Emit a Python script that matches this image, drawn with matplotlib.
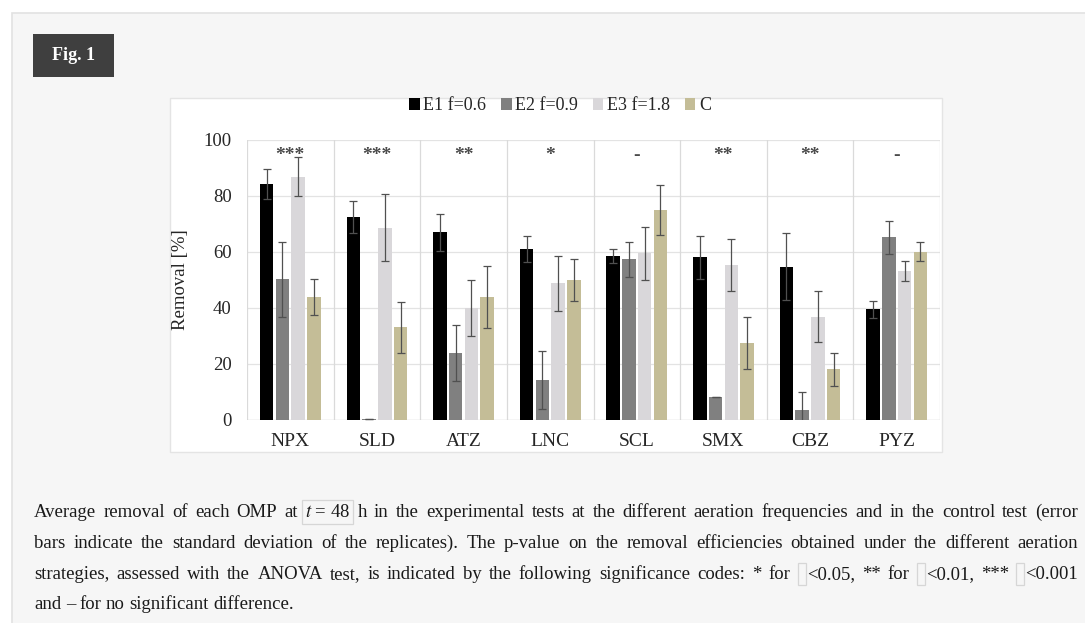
import numpy as np
import matplotlib
matplotlib.use("Agg")
import matplotlib.pyplot as plt
from matplotlib.patches import Patch, Rectangle

plt.rcParams["font.family"] = ["Liberation Serif", "DejaVu Serif"]
plt.rcParams["mathtext.fontset"] = "stix"

compounds = ["NPX", "SLD", "ATZ", "LNC", "SCL", "SMX", "CBZ", "PYZ"]
series = ["E1 f=0.6", "E2 f=0.9", "E3 f=1.8", "C"]

e1 = [84.2, 72.6, 67.0, 61.1, 58.6, 58.1, 54.8, 39.6]
e2 = [50.2, 0.5, 23.8, 14.3, 57.4, 8.3, 3.6, 65.2]
e3 = [86.9, 68.7, 39.9, 48.8, 59.5, 55.4, 36.9, 53.3]
c = [44.0, 33.1, 44.0, 50.0, 75.0, 27.4, 18.1, 60.1]

e1_sd = [5.3, 5.7, 6.5, 4.6, 2.5, 7.6, 12.0, 3.0]
e2_sd = [13.5, 0.0, 10.0, 10.5, 6.3, 0.0, 6.5, 6.0]
e3_sd = [7.0, 12.0, 10.0, 9.7, 9.5, 9.2, 9.2, 3.5]
c_sd = [6.5, 9.0, 11.0, 7.4, 9.0, 9.3, 6.0, 3.4]

signif = ["***", "***", "**", "*", "-", "**", "**", "-"]

colors = ["#000000", "#808080", "#d9d7da", "#c4bd97"]

W, H = 1085, 623
fig = plt.figure(figsize=(W / 100, H / 100), dpi=100)
fig.patch.set_facecolor("white")


def fx(px):
    return px / W


def fy(py):
    return 1 - py / H


# page panel and chart box
fig.add_artist(Rectangle((fx(12), fy(700)), fx(1100), fy(13) - fy(700),
                         transform=fig.transFigure, facecolor="#f6f6f6",
                         edgecolor="#e2e2e2", lw=1.2, zorder=-3))
fig.add_artist(Rectangle((fx(170), fy(452)), fx(942) - fx(170), fy(98) - fy(452),
                         transform=fig.transFigure, facecolor="white",
                         edgecolor="#e4e4e4", lw=1.0, zorder=-2))
fig.add_artist(Rectangle((fx(33), fy(77)), fx(114) - fx(33), fy(34) - fy(77),
                         transform=fig.transFigure, facecolor="#3f3f3f",
                         edgecolor="none", zorder=-1))
fig.text(fx(73.5), fy(56), "Fig. 1", color="white", fontsize=13,
         fontweight="bold", ha="center", va="center")

ax = fig.add_axes([fx(247), fy(420), fx(940) - fx(247), fy(140) - fy(420)])
ax.set_facecolor("none")

x = np.arange(len(compounds))
step = 0.182
bw = 0.156
vals = [e1, e2, e3, c]
sds = [e1_sd, e2_sd, e3_sd, c_sd]
for i in range(4):
    ax.bar(x + (i - 1.5) * step, vals[i], bw, color=colors[i], zorder=2,
           label=series[i])
    ax.errorbar(x + (i - 1.5) * step, vals[i], yerr=sds[i], fmt="none",
                ecolor="#505050", elinewidth=0.9, capsize=3, capthick=0.9,
                zorder=3)

for i, s in enumerate(signif):
    ax.text(i, 94.5, s, ha="center", va="center", fontsize=14, color="#4a4a4a",
            fontweight="bold")

ax.set_xlim(-0.5, len(compounds) - 0.5)
ax.set_ylim(0, 100)
ax.set_yticks([0, 20, 40, 60, 80, 100])
ax.set_xticks(x)
ax.set_xticklabels(compounds)
for yv in [20, 40, 60, 80, 100]:
    ax.axhline(yv, color="#e3e3e3", lw=0.9, zorder=0)
for xv in np.arange(-0.5, len(compounds), 1.0):
    ax.axvline(xv, color="#dadada", lw=0.9, zorder=0)
for sp in ax.spines.values():
    sp.set_visible(False)
ax.axhline(0, color="#d0d0d0", lw=1.0, zorder=1)
ax.tick_params(axis="y", length=0, pad=11, labelsize=13.5, labelcolor="#262626")
ax.tick_params(axis="x", length=0, pad=9, labelsize=14, labelcolor="#262626")
ax.set_ylabel("Removal [%]", fontsize=13.5, color="#262626")
ax.yaxis.set_label_coords(-0.083, 0.5)

handles = [Patch(facecolor=colors[i], label=series[i]) for i in range(4)]
fig.legend(handles=handles, loc="center", bbox_to_anchor=(fx(560), fy(106)),
           ncol=4, frameon=False, fontsize=13, handlelength=0.6,
           handleheight=0.6, handletextpad=0.2, columnspacing=0.8,
           labelcolor="#262626")

# caption, justified
lines = [
    ["Average", "removal", "of", "each", "OMP", "at", "$t$ = 48", "h", "in", "the",
     "experimental", "tests", "at", "the", "different", "aeration", "frequencies",
     "and", "in", "the", "control", "test", "(error"],
    ["bars", "indicate", "the", "standard", "deviation", "of", "the", "replicates).",
     "The", "p-value", "on", "the", "removal", "efficiencies", "obtained", "under",
     "the", "different", "aeration"],
    ["strategies,", "assessed", "with", "the", "ANOVA", "test,", "is", "indicated",
     "by", "the", "following", "significance", "codes:", "*", "for", "<0.05,", "**",
     "for", "<0.01,", "***", "<0.001"],
    ["and", "\u2013", "for", "no", "significant", "difference."],
]
line_y = [512, 543, 574, 604]
boxed = {"$t$ = 48"}
pre_box = {"<0.05,", "<0.01,", "<0.001"}

fig.canvas.draw()
renderer = fig.canvas.get_renderer()
x0, x1 = 34, 1078
for li, words in enumerate(lines):
    yb = line_y[li] + 5
    texts = []
    widths = []
    for w in words:
        t = fig.text(0, fy(yb), w, fontsize=13.5, color="#1a1a1a",
                     va="baseline", ha="left")
        bb = t.get_window_extent(renderer)
        extra = 9 if w in pre_box else 0
        texts.append((t, extra))
        widths.append(bb.width + extra)
    if li < len(lines) - 1:
        gap = (x1 - x0 - sum(widths)) / (len(words) - 1)
    else:
        gap = 4.5
    cx = x0
    for (t, extra), wd in zip(texts, widths):
        t.set_x(fx(cx + extra))
        w = t.get_text()
        if w in boxed:
            fig.add_artist(Rectangle((fx(cx - 3), fy(line_y[li] + 12)),
                                     fx(wd + 6), fy(line_y[li] - 12) - fy(line_y[li] + 12),
                                     transform=fig.transFigure, fill=False,
                                     edgecolor="#d6d6d6", lw=0.9))
        if extra:
            fig.add_artist(Rectangle((fx(cx), fy(line_y[li] + 11)),
                                     fx(8), fy(line_y[li] - 11) - fy(line_y[li] + 11),
                                     transform=fig.transFigure, fill=False,
                                     edgecolor="#d6d6d6", lw=0.9))
        cx += wd + gap

fig.savefig("out.png", dpi=100)
